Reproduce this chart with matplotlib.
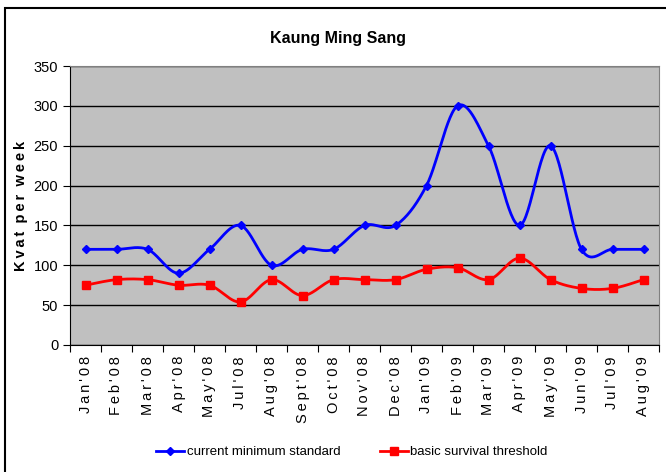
import numpy as np
import matplotlib.pyplot as plt
from matplotlib.patches import Rectangle
from matplotlib.lines import Line2D

months = ["Jan'08", "Feb'08", "Mar'08", "Apr'08", "May'08", "Jul'08", "Aug'08",
          "Sept'08", "Oct'08", "Nov'08", "Dec'08", "Jan'09", "Feb'09", "Mar'09",
          "Apr'09", "May'09", "Jun'09", "Jul'09", "Aug'09"]
current_min = [120, 120, 120, 90, 120, 150, 100, 120, 120, 150, 150, 200, 300, 250,
               150, 250, 120, 120, 120]
survival = [75, 82, 82, 75, 75, 54, 82, 62, 82, 82, 82, 95, 97, 82, 109, 82, 71, 71, 82]


def smooth(x, y, n=30):
    # bezier segments with catmull-rom style control points
    x = np.asarray(x, float)
    y = np.asarray(y, float)
    px = np.concatenate([[x[0]], x, [x[-1]]])
    py = np.concatenate([[y[0]], y, [y[-1]]])
    t = np.linspace(0, 1, n)[:, None]
    xs, ys = [], []
    for i in range(1, len(px) - 2):
        p0 = np.array([px[i], py[i]])
        p3 = np.array([px[i + 1], py[i + 1]])
        c1 = p0 + (p3 - np.array([px[i - 1], py[i - 1]])) / 6
        c2 = p3 - (np.array([px[i + 2], py[i + 2]]) - p0) / 6
        pts = ((1 - t) ** 3) * p0 + 3 * ((1 - t) ** 2) * t * c1 + 3 * (1 - t) * t ** 2 * c2 + t ** 3 * p3
        xs.append(pts[:, 0])
        ys.append(pts[:, 1])
    return np.concatenate(xs), np.concatenate(ys)


def spaced(s):
    return "\u2009".join(s)


plt.rcParams['font.family'] = ['Liberation Sans', 'DejaVu Sans']

fig = plt.figure(figsize=(6.66, 4.72), dpi=100)
fig.patches.append(Rectangle((5 / 666, -0.1), 1.2, 1 - 8 / 472 + 0.1, transform=fig.transFigure,
                             fill=False, edgecolor='black', linewidth=1.5))

ax = fig.add_axes([70 / 666, 127 / 472, 589 / 666, 279 / 472])
ax.set_facecolor('#c0c0c0')
x = np.arange(len(months))

bx, by = smooth(x, current_min)
ax.plot(bx, by, color='#0000ff', lw=2, zorder=3)
ax.plot(x, current_min, 'D', color='#0000ff', ms=4.5, zorder=4)
rx, ry = smooth(x, survival)
ax.plot(rx, ry, color='#ff0000', lw=2, zorder=3)
ax.plot(x, survival, 's', color='#ff0000', ms=5.5, zorder=4)

ax.set_xlim(-0.5, len(months) - 0.5)
ax.set_ylim(0, 350)
ax.set_yticks(range(0, 351, 50))
ax.yaxis.grid(True, color='black', lw=1)
ax.set_axisbelow(True)

ax.set_xticks(np.arange(len(months) + 1) - 0.5)
ax.set_xticklabels([])
ax.set_xticks(x, minor=True)
ax.set_xticklabels([spaced(m) for m in months], minor=True, rotation=90, fontsize=10.5)
ax.tick_params(axis='x', which='minor', length=0, pad=8)
ax.tick_params(axis='x', which='major', length=5, color='black')
ax.tick_params(axis='y', length=5, labelsize=10.5)

for side in ['top', 'right']:
    ax.spines[side].set_color('#808080')
for side in ['left', 'bottom']:
    ax.spines[side].set_color('black')

ax.set_ylabel(spaced("Kvat") + "  " + spaced("per") + "  " + spaced("week"),
              fontsize=10.5, fontweight='bold', labelpad=4)
fig.text(338 / 666, 1 - 38 / 472, "Kaung Ming Sang", ha='center', va='center',
         fontsize=11.5, fontweight='bold')

handles = [Line2D([], [], color='#0000ff', lw=2, marker='D', ms=4.5),
           Line2D([], [], color='#ff0000', lw=2, marker='s', ms=5.5)]
fig.legend(handles, ["current minimum standard", "basic survival threshold"],
           loc='center', bbox_to_anchor=(352 / 666, 1 - 452 / 472), ncol=2,
           frameon=False, fontsize=9.5, handlelength=2.1, columnspacing=3.0,
           handletextpad=0.2)

fig.savefig('out.png', dpi=100)
